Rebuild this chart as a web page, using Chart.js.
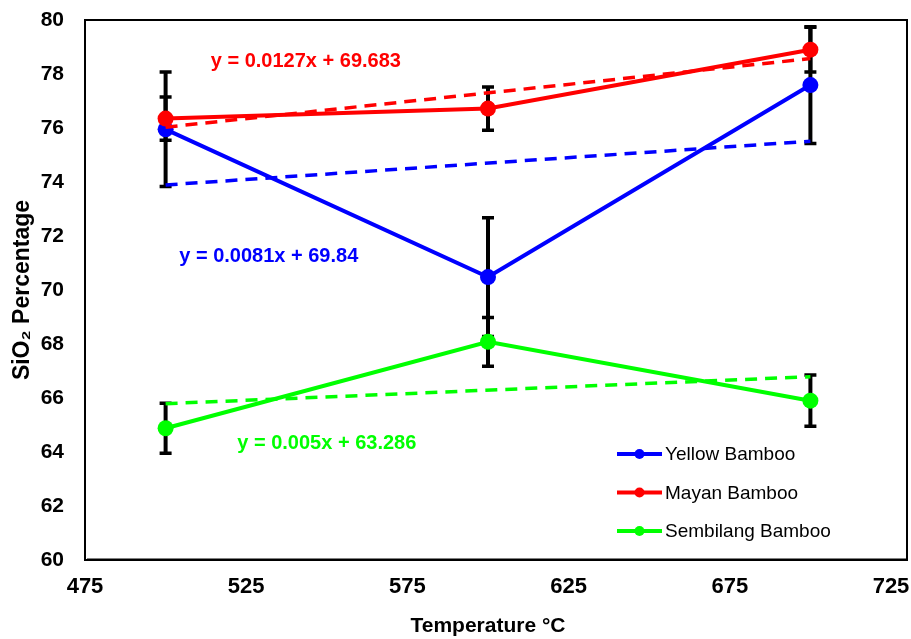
<!DOCTYPE html>
<html>
<head>
<meta charset="utf-8">
<script src="https://cdn.jsdelivr.net/npm/chart.js@4/dist/chart.umd.min.js"></script>
<style>
	html, body { margin: 0; padding: 0; background: #fff; }
	#wrap { width: 911px; height: 639px; }
</style>
</head>
<body>
<div id="wrap"><canvas id="myChart" width="911" height="639"></canvas></div>
<script>
(() => {
	"use strict";

	// Data
	const temps = [500, 600, 700];
	const yellow = [75.95, 70.48, 77.59];
	const yellowErr = [2.12, 2.2, 2.16];
	const mayan = [76.35, 76.72, 78.9];
	const mayanErr = [0.8, 0.8, 0.83];
	const sembilang = [64.88, 68.08, 65.9];
	const sembilangErr = [0.93, 0.9, 0.95];

	// Linear trendlines (ends at 500 and 700)
	const trendX = [500, 700];
	const yellowTrend = [73.89, 75.51];
	const mayanTrend = [76.03, 78.57];
	const sembilangTrend = [65.79, 66.79];

	const seriesNames = ["Yellow Bamboo", "Mayan Bamboo", "Sembilang Bamboo"];
	const equations = ["y = 0.0081x + 69.84", "y = 0.0127x + 69.683", "y = 0.005x + 63.286"];
	const eqAt = [[532, 71.25], [543.5, 78.45], [550, 64.3]];

	const xTicks = [475, 525, 575, 625, 675, 725];
	const yTicks = [60, 62, 64, 66, 68, 70, 72, 74, 76, 78, 80];

	const BLUE = "#0000ff";
	const RED = "#ff0000";
	const GREEN = "#00ff00";
	const colors = [BLUE, RED, GREEN];
	const FONT = "'Liberation Sans', Arial, sans-serif";

	const pts = (xs, ys) => xs.map((x, i) => ({ x: x, y: ys[i] }));

	const line = (label, ys, err, color, order) => ({
		label: label,
		data: pts(temps, ys),
		err: err,
		borderColor: color,
		backgroundColor: color,
		borderWidth: 4,
		pointRadius: 8,
		pointHoverRadius: 8,
		pointBorderWidth: 0,
		order: order,
	});

	const trend = (ys, color) => ({
		label: "trend",
		data: pts(trendX, ys),
		borderColor: color,
		borderWidth: 3.5,
		borderDash: [12, 8],
		pointRadius: 0,
		order: 0,
	});

	const frame = {
		id: "frame",
		beforeDatasetsDraw(chart) {
			const { ctx, scales } = chart;
			ctx.save();
			ctx.strokeStyle = "#000";
			chart.data.datasets.forEach((ds) => {
				if (!ds.err) return;
				ds.data.forEach((p, i) => {
					const x = scales.x.getPixelForValue(p.x);
					const top = scales.y.getPixelForValue(p.y + ds.err[i]);
					const bot = scales.y.getPixelForValue(p.y - ds.err[i]);
					ctx.lineWidth = 4;
					ctx.beginPath();
					ctx.moveTo(x, top);
					ctx.lineTo(x, bot);
					ctx.stroke();
					ctx.lineWidth = 3.5;
					ctx.beginPath();
					ctx.moveTo(x - 6, top);
					ctx.lineTo(x + 6, top);
					ctx.moveTo(x - 6, bot);
					ctx.lineTo(x + 6, bot);
					ctx.stroke();
				});
			});
			ctx.restore();
		},
		afterDraw(chart) {
			const { ctx, chartArea: a, scales } = chart;
			// the plot box runs a little past the 725 end of the axis
			const right = a.right + 16;
			ctx.save();
			ctx.strokeStyle = "#808080";
			ctx.lineWidth = 2;
			ctx.beginPath();
			ctx.moveTo(a.left + 2, a.bottom - 1);
			ctx.lineTo(right - 1, a.bottom - 1);
			ctx.stroke();
			ctx.strokeStyle = "#000";
			ctx.lineWidth = 2;
			ctx.strokeRect(a.left, a.top, right - a.left, a.bottom - a.top);

			// trendline equations
			ctx.font = "bold 20px " + FONT;
			ctx.textAlign = "center";
			ctx.textBaseline = "middle";
			equations.forEach((eq, i) => {
				ctx.fillStyle = colors[i];
				ctx.fillText(eq, scales.x.getPixelForValue(eqAt[i][0]), scales.y.getPixelForValue(eqAt[i][1]));
			});

			// legend
			ctx.font = "19px " + FONT;
			ctx.textAlign = "left";
			seriesNames.forEach((name, i) => {
				const y = 454 + i * 38.5;
				ctx.strokeStyle = colors[i];
				ctx.fillStyle = colors[i];
				ctx.lineWidth = 4;
				ctx.beginPath();
				ctx.moveTo(617, y);
				ctx.lineTo(662, y);
				ctx.stroke();
				ctx.beginPath();
				ctx.arc(639.5, y, 5, 0, Math.PI * 2);
				ctx.fill();
				ctx.fillStyle = "#000";
				ctx.fillText(name, 665, y + 1);
			});
			ctx.restore();
		},
	};

	const ctx = document.getElementById("myChart");
	// eslint-disable-next-line no-unused-vars
	const myChart = new Chart(ctx, {
		type: "line",
		data: {
			datasets: [
				line(seriesNames[0], yellow, yellowErr, BLUE, 2),
				line(seriesNames[1], mayan, mayanErr, RED, 1),
				line(seriesNames[2], sembilang, sembilangErr, GREEN, 3),
				trend(yellowTrend, BLUE),
				trend(mayanTrend, RED),
				trend(sembilangTrend, GREEN),
			],
		},
		options: {
			responsive: false,
			animation: false,
			layout: {
				padding: { top: 20, right: 20, left: 0, bottom: 0 },
			},
			plugins: {
				legend: { display: false },
				tooltip: { enabled: false },
			},
			scales: {
				x: {
					type: "linear",
					min: 475,
					max: 725,
					afterBuildTicks: (s) => { s.ticks = xTicks.map((v) => ({ value: v })); },
					afterFit: (s) => { s.height = 79; s.paddingLeft = 0; s.paddingRight = 0; },
					grid: { display: false, drawTicks: false },
					border: { display: false },
					ticks: {
						padding: 14,
						color: "#000",
						font: { family: FONT, size: 22, weight: "bold" },
					},
					title: {
						display: true,
						text: "Temperature °C",
						color: "#000",
						padding: { top: 12, bottom: 0 },
						font: { family: FONT, size: 21, weight: "bold" },
					},
				},
				y: {
					min: 60,
					max: 80,
					afterBuildTicks: (s) => { s.ticks = yTicks.map((v) => ({ value: v })); },
					afterFit: (s) => { s.width = 85; s.paddingTop = 0; s.paddingBottom = 0; },
					grid: { display: false, drawTicks: false },
					border: { display: false },
					ticks: {
						padding: 21,
						color: "#000",
						font: { family: FONT, size: 21, weight: "bold" },
					},
					title: {
						display: true,
						text: "SiO₂ Percentage",
						color: "#000",
						padding: { top: 9, bottom: 0 },
						font: { family: FONT, size: 23, weight: "bold" },
					},
				},
			},
		},
		plugins: [frame],
	});
})();
</script>
</body>
</html>
